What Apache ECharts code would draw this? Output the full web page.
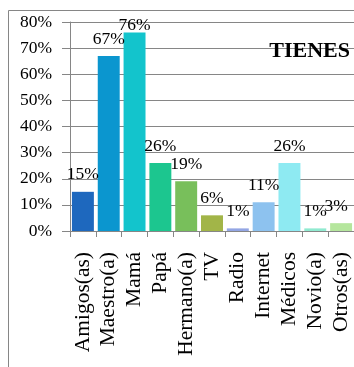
<!DOCTYPE html>
<html><head><meta charset="utf-8">
<script src="https://cdn.jsdelivr.net/npm/echarts@6/dist/echarts.min.js"></script>
<style>html,body{margin:0;padding:0;background:#fff}#c{width:354px;height:367px}</style>
</head><body><div id="c"></div>
<script>
const categories = ['Amigos(as)','Maestro(a)','Mamá','Papá','Hermano(a)','TV','Radio','Internet','Médicos','Novio(a)','Otros(as)'];
const values = [15, 67, 76, 26, 19, 6, 1, 11, 26, 1, 3];
const yTicks = [0, 10, 20, 30, 40, 50, 60, 70, 80];
const barColors = ['#1e68be','#0b96cf','#13c4cc','#1cc68f','#78bf5b','#a2b548','#93a6e4','#8dc2ef','#8eeaf2','#90ead0','#b5e69d'];
const labelOffsets = {2: [0, 10], 10: [-5, 0]};
const title = 'TIENES';
const FONT = '"Liberation Serif", "Times New Roman", serif';

const chart = echarts.init(document.getElementById('c'), null, {renderer: 'canvas'});
const data = values.map((v, i) => {
  const d = {value: v, itemStyle: {color: barColors[i]}};
  if (labelOffsets[i]) d.label = {offset: labelOffsets[i]};
  return d;
});
chart.setOption({
  animation: false,
  backgroundColor: '#fff',
  grid: {left: 70, top: 22, width: 286, bottom: 136, containLabel: false},
  xAxis: {
    type: 'category', data: categories,
    axisLine: {lineStyle: {color: '#868686', width: 1}},
    axisTick: {show: true, length: 6, alignWithLabel: false, lineStyle: {color: '#868686'}},
    axisLabel: {rotate: 90, interval: 0, margin: 21, color: '#000', fontFamily: FONT, fontSize: 21.5}
  },
  yAxis: {
    type: 'value', min: yTicks[0], max: yTicks[yTicks.length-1], interval: 10,
    axisLine: {show: true, lineStyle: {color: '#868686'}},
    axisTick: {show: true, length: 8, inside: false, lineStyle: {color: '#868686'}},
    splitLine: {show: true, lineStyle: {color: '#868686', width: 1}},
    axisLabel: {formatter: '{value}%', margin: 18, color: '#000', fontFamily: FONT, fontSize: 17.5}
  },
  series: [{
    type: 'bar', data: data, barCategoryGap: '15%',
    label: {show: true, position: 'top', distance: 8, formatter: '{c}%', color: '#000', fontFamily: FONT, fontSize: 17.5}
  }],
  graphic: [
    {type: 'rect', shape: {x: 8.5, y: 10.5, width: 400, height: 400}, style: {fill: 'none', stroke: '#868686', lineWidth: 1}, z: 100},
    {type: 'text', x: 350, y: 51, style: {text: title, fill: '#000', font: 'bold 22px ' + FONT, textAlign: 'right', textVerticalAlign: 'middle'}, z: 100}
  ]
});
</script></body></html>
